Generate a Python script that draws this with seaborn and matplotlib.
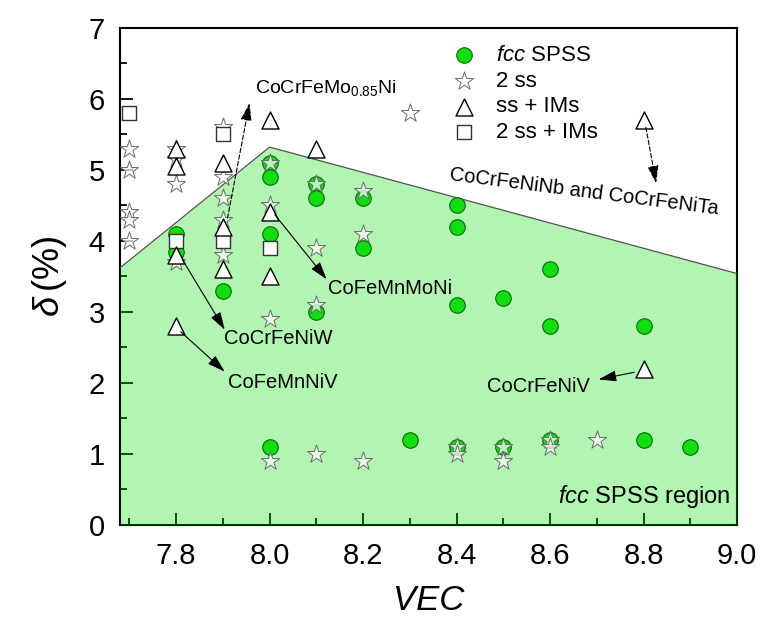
import matplotlib
matplotlib.use("Agg")
import matplotlib.pyplot as plt
from matplotlib.ticker import MultipleLocator, FormatStrFormatter
import seaborn as sns

# ---- data: valence electron concentration (VEC) vs atomic size difference delta (%) ----
fcc_vec = [7.8, 7.8, 7.9, 8.0, 8.0, 8.0, 8.0, 8.1, 8.1, 8.1, 8.2, 8.2, 8.3,
           8.4, 8.4, 8.4, 8.4, 8.5, 8.5, 8.6, 8.6, 8.6, 8.8, 8.8, 8.9]
fcc_delta = [4.1, 3.85, 3.3, 5.1, 4.9, 4.1, 1.1, 4.8, 4.6, 3.0, 4.6, 3.9, 1.2,
             4.5, 4.2, 3.1, 1.1, 3.2, 1.1, 3.6, 2.8, 1.2, 2.8, 1.2, 1.1]

two_ss_vec = [7.7, 7.7, 7.7, 7.7, 7.7, 7.8, 7.8, 7.8, 7.8, 7.9, 7.9, 7.9, 7.9,
              7.9, 8.0, 8.0, 8.0, 8.0, 8.1, 8.1, 8.1, 8.1, 8.2, 8.2, 8.2, 8.3,
              8.4, 8.4, 8.5, 8.5, 8.6, 8.6, 8.7]
two_ss_delta = [5.3, 5.0, 4.4, 4.3, 4.0, 5.3, 5.15, 4.8, 3.7, 5.6, 4.9, 4.6, 4.3,
                3.8, 5.1, 4.5, 2.9, 0.9, 4.8, 3.9, 3.1, 1.0, 4.7, 4.1, 0.9, 5.8,
                1.1, 1.0, 1.1, 0.9, 1.2, 1.1, 1.2]

ss_ims_vec = [7.8, 7.8, 7.8, 7.8, 7.9, 7.9, 7.9, 8.0, 8.0, 8.0, 8.1, 8.8, 8.8]
ss_ims_delta = [5.3, 5.05, 3.8, 2.8, 5.1, 4.2, 3.6, 5.7, 4.4, 3.5, 5.3, 5.7, 2.2]

two_ss_ims_vec = [7.7, 7.8, 7.9, 7.9, 8.0]
two_ss_ims_delta = [5.8, 4.0, 5.5, 4.0, 3.9]

# upper boundary of the fcc single-phase region
region_vec = [7.68, 8.0, 9.0]
region_delta = [3.62, 5.32, 3.54]

# ---- style ----
sns.set_theme(style="white")
plt.rcParams['font.family'] = ['Liberation Sans', 'DejaVu Sans']
plt.rcParams['mathtext.fontset'] = 'custom'
plt.rcParams['mathtext.rm'] = 'Liberation Sans'
plt.rcParams['mathtext.it'] = 'Liberation Sans:italic'
plt.rcParams['mathtext.bf'] = 'Liberation Sans:bold'
for key in ('text.color', 'axes.labelcolor', 'xtick.color', 'ytick.color'):
    plt.rcParams[key] = 'black'

fig = plt.figure(figsize=(7.62, 6.35), dpi=100)
ax = fig.add_axes([0.1575, 0.1732, 0.8097, 0.7831])

# shaded fcc region (drawn over the inner tick marks, like a translucent overlay)
ax.fill_between(region_vec, 0, region_delta, color=(0.0, 0.87, 0.0), alpha=0.3,
                linewidth=0, zorder=3)
ax.plot(region_vec, region_delta, color='#505050', linewidth=0.9, zorder=3.5)

sns.scatterplot(x=fcc_vec, y=fcc_delta, marker='o', s=125, color='#11dd11',
                edgecolor='#0a6a0a', linewidth=0.8, label=r'$\mathit{fcc}$ SPSS',
                zorder=4, ax=ax)
sns.scatterplot(x=two_ss_vec, y=two_ss_delta, marker='*', s=190,
                color=(1.0, 1.0, 1.0, 0.72), edgecolor='#6a6a6a', linewidth=0.7,
                label='2 ss', zorder=5, ax=ax)
sns.scatterplot(x=ss_ims_vec, y=ss_ims_delta, marker='^', s=150, color='white',
                edgecolor='black', linewidth=1.0, label='ss + IMs', zorder=6, ax=ax)
sns.scatterplot(x=two_ss_ims_vec, y=two_ss_ims_delta, marker='s', s=105,
                color='white', edgecolor='#333333', linewidth=1.0,
                label='2 ss + IMs', zorder=5.5, ax=ax)

# ---- annotations ----
arrow_kw = dict(arrowstyle='-|>,head_length=0.9,head_width=0.28', color='black',
                lw=0.8, shrinkA=0, shrinkB=0, mutation_scale=12)
dashed_kw = dict(arrow_kw, linestyle=(0, (4, 2)))

def arrow(tail, head, style):
    ax.annotate('', xy=head, xytext=tail, arrowprops=style, zorder=7)

arrow((7.91, 4.32), (7.957, 5.94), dashed_kw)
arrow((8.805, 5.60), (8.827, 4.81), dashed_kw)
arrow((8.011, 4.37), (8.122, 3.46), arrow_kw)
arrow((7.814, 3.73), (7.904, 2.75), arrow_kw)
arrow((7.81, 2.72), (7.904, 2.16), arrow_kw)
arrow((8.78, 2.15), (8.704, 2.05), arrow_kw)

label_fs = 14.5
ax.text(7.968, 6.15, r'CoCrFeMo$_{0.85}$Ni', fontsize=14, ha='left', va='center', zorder=7)
ax.text(8.673, 4.69, 'CoCrFeNiNb and CoCrFeNiTa', fontsize=label_fs, rotation=-7.3,
        rotation_mode='anchor', ha='center', va='center', zorder=7)
ax.text(8.257, 3.33, 'CoFeMnMoNi', fontsize=label_fs, ha='center', va='center', zorder=7)
ax.text(8.018, 2.62, 'CoCrFeNiW', fontsize=label_fs, ha='center', va='center', zorder=7)
ax.text(8.029, 2.00, 'CoFeMnNiV', fontsize=label_fs, ha='center', va='center', zorder=7)
ax.text(8.575, 1.95, 'CoCrFeNiV', fontsize=label_fs, ha='center', va='center', zorder=7)
ax.text(8.986, 0.40, r'$\mathit{fcc}$ SPSS region', fontsize=17, ha='right',
        va='center', zorder=7)

# ---- axes ----
ax.set_xlim(7.68, 9.0)
ax.set_ylim(0, 7)
ax.xaxis.set_major_locator(MultipleLocator(0.2))
ax.xaxis.set_minor_locator(MultipleLocator(0.1))
ax.yaxis.set_major_locator(MultipleLocator(1))
ax.yaxis.set_minor_locator(MultipleLocator(0.5))
ax.xaxis.set_major_formatter(FormatStrFormatter('%.1f'))
ax.tick_params(which='both', direction='in', bottom=True, left=True, top=False,
               right=False, color='black', labelcolor='black', width=1.3,
               labelsize=21)
ax.tick_params(axis='x', which='major', length=9, pad=12)
ax.tick_params(axis='y', which='major', length=9, pad=11)
ax.tick_params(which='minor', length=5)
for sp in ax.spines.values():
    sp.set_color('black')
    sp.set_linewidth(1.5)

ax.set_xlabel('VEC', fontsize=25, fontstyle='italic', labelpad=10, color='black')
ax.set_ylabel(r'$\delta\,$(%)', fontsize=26, labelpad=14, color='black')

ax.legend(loc='upper left', bbox_to_anchor=(0.515, 0.975), frameon=False,
          fontsize=16, handletextpad=0.4, labelspacing=0.22, borderaxespad=0,
          borderpad=0.2)

fig.savefig('out.png', dpi=100)
